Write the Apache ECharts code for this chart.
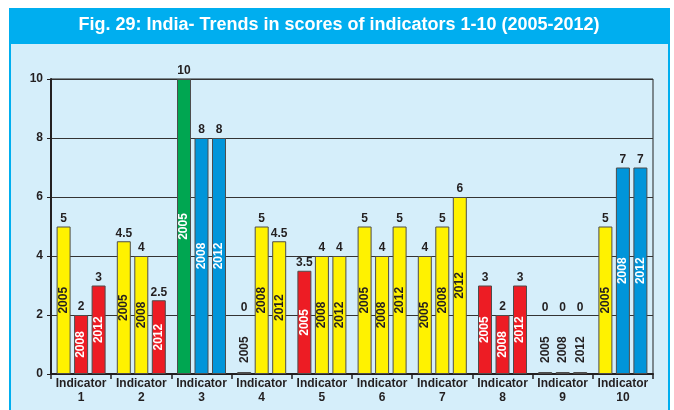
<!DOCTYPE html>
<html><head><meta charset="utf-8">
<script src="https://cdn.jsdelivr.net/npm/echarts@6/dist/echarts.min.js"></script>
<style>html,body{margin:0;padding:0;background:#fff}#c{width:674px;height:410px}</style>
</head><body><div id="c"></div>
<script>
const categories = ['Indicator\n1','Indicator\n2','Indicator\n3','Indicator\n4','Indicator\n5','Indicator\n6','Indicator\n7','Indicator\n8','Indicator\n9','Indicator\n10'];
const years = ['2005','2008','2012'];
const values2005 = [5, 4.5, 10, 0, 3.5, 5, 4, 3, 0, 5];
const values2008 = [2, 4, 8, 5, 4, 4, 5, 2, 0, 7];
const values2012 = [3, 2.5, 8, 4.5, 4, 5, 6, 3, 0, 7];
// colour keys: Y yellow, R red, G green, B blue, Z zero
const colors2005 = ['Y','Y','G','Z','R','Y','Y','R','Z','Y'];
const colors2008 = ['R','Y','B','Y','Y','Y','Y','R','Z','B'];
const colors2012 = ['R','R','B','Y','Y','Y','Y','R','Z','B'];
const yTicks = [0, 2, 4, 6, 8, 10];

const palette = {Y:'#FFF200', R:'#ED1C24', G:'#00A651', B:'#0095DA', Z:'#4a4a30'};
const textCol = {Y:'#231F20', R:'#ffffff', G:'#ffffff', B:'#ffffff', Z:'#231F20'};
const allVals = [values2005, values2008, values2012];
const allCols = [colors2005, colors2008, colors2012];

const series = [];
years.forEach((yr, si) => {
  series.push({
    type: 'bar', stack: 's' + si, barWidth: 14, barGap: '25%', barMinHeight: 2,
    data: allVals[si].map((v, i) => {
      const k = allCols[si][i];
      const item = {value: v, itemStyle: {color: palette[k]},
        label: {color: textCol[k]}};
      if (v === 0) {
        item.label = {position: 'top', align: 'left', verticalAlign: 'middle', distance: 9, color: '#231F20'};
      }
      return item;
    }),
    itemStyle: {borderColor: '#4d4d4d', borderWidth: 1},
    label: {show: true, position: 'inside', rotate: 90, formatter: yr,
      fontFamily: 'Liberation Sans, Arial', fontWeight: 'bold', fontSize: 12},
    silent: true
  });
});
years.forEach((yr, si) => {
  series.push({
    type: 'bar', stack: 's' + si, barWidth: 14, barGap: '25%',
    data: allVals[si].map((v) => {
      const item = {value: 0};
      if (v === 0) item.label = {distance: 60};
      return item;
    }),
    itemStyle: {color: 'transparent', borderWidth: 0},
    label: {show: true, position: 'top', distance: 2,
      formatter: (p) => String(allVals[si][p.dataIndex]),
      fontFamily: 'Liberation Sans, Arial', fontWeight: 'bold', fontSize: 12, color: '#231F20'},
    silent: true
  });
});

const chart = echarts.init(document.getElementById('c'), null, {renderer: 'canvas'});
chart.setOption({
  animation: false,
  backgroundColor: '#ffffff',
  graphic: [
    {type: 'rect', shape: {x: 10, y: 43, width: 659, height: 372}, style: {fill: '#D5EEFA', stroke: '#00AEEF', lineWidth: 2}, z: -10},
    {type: 'rect', shape: {x: 9, y: 8, width: 661, height: 35}, style: {fill: '#00AEEF'}, z: -9},
    {type: 'text', x: 339, y: 25, style: {text: 'Fig. 29: India- Trends in scores of indicators 1-10 (2005-2012)', fill: '#ffffff',
      font: 'bold 18px "Liberation Sans Narrow", "Arial Narrow", "Liberation Sans"', align: 'center', verticalAlign: 'middle'}, z: 10}
  ],
  grid: {left: 51, right: 21, top: 79, bottom: 36, show: true, borderColor: '#222', borderWidth: 1, backgroundColor: 'transparent'},
  xAxis: {type: 'category', data: categories,
    axisLine: {lineStyle: {color: '#231F20', width: 2}},
    axisTick: {show: true, length: 5, interval: 0, lineStyle: {color: '#231F20', width: 1.5}},
    axisLabel: {interval: 0, fontFamily: 'Liberation Sans, Arial', fontWeight: 'bold', fontSize: 12, color: '#231F20', lineHeight: 14, margin: 3}
  },
  yAxis: {type: 'value', min: 0, max: 10, interval: 2,
    axisLine: {show: true, lineStyle: {color: '#231F20', width: 2}},
    axisTick: {show: true, length: 4, lineStyle: {color: '#231F20'}},
    splitLine: {lineStyle: {color: '#333', width: 1.2}},
    axisLabel: {fontFamily: 'Liberation Sans, Arial', fontWeight: 'bold', fontSize: 12, color: '#231F20', margin: 8,
      formatter: (v) => yTicks.includes(v) ? String(v) : ''}
  },
  series: series
});
</script></body></html>
